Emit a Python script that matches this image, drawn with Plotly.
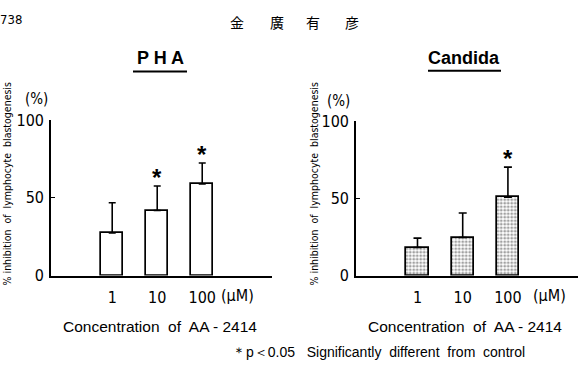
import plotly.graph_objects as go

W, H = 578, 369

positions = [1, 2, 3]
tick_labels = ["1", "10", "100"]

pha_mean = [27.3, 41.8, 58.8]
pha_err = [19.5, 15.8, 13.5]
pha_sig = [False, True, True]

cand_mean = [18.1, 24.6, 50.6]
cand_err = [6.1, 15.8, 19.5]
cand_sig = [False, False, True]

NARROW = "Liberation Sans Narrow, DejaVu Sans Condensed, Arial Narrow, sans-serif"
SANS = "Liberation Sans, Arial, sans-serif"


def px(x):
    return x / W


def py(y):
    return 1 - y / H


fig = go.Figure()

fig.add_trace(go.Bar(
    x=positions, y=pha_mean, width=0.49,
    marker=dict(color="white", line=dict(color="black", width=1.7)),
    error_y=dict(type="data", array=pha_err, arrayminus=[0, 0, 0], symmetric=False,
                 color="black", thickness=1.6, width=3.5),
    xaxis="x", yaxis="y", showlegend=False,
))
fig.add_trace(go.Bar(
    x=positions, y=cand_mean, width=0.49,
    marker=dict(color="white", line=dict(color="black", width=1.7),
                pattern=dict(shape=".", size=3.5, solidity=0.5, fgcolor="#444", bgcolor="white")),
    error_y=dict(type="data", array=cand_err, arrayminus=[0, 0, 0], symmetric=False,
                 color="black", thickness=1.6, width=4),
    xaxis="x2", yaxis="y2", showlegend=False,
))

xcommon = dict(range=[-0.36, 4.55], showline=True, linecolor="black", linewidth=1.7,
               showgrid=False, zeroline=False, ticks="", tickvals=positions,
               ticktext=tick_labels, ticklabelstandoff=6,
               tickfont=dict(family=NARROW, size=16, color="black"), fixedrange=True)
ycommon = dict(range=[0, 100], showline=True, linecolor="black", linewidth=1.7,
               showgrid=False, zeroline=False, ticks="inside", ticklen=4, tickwidth=1.4,
               tickcolor="black", tickvals=[0, 50, 100], ticklabelstandoff=2,
               tickfont=dict(family=NARROW, size=16, color="black"), fixedrange=True)

annotations = []
shapes = []

panels = [
    dict(xa="x", ya="y", x0=51, x1=272, y0=281, y100=117, mean=pha_mean, err=pha_err, sig=pha_sig,
         title="<b>P H A</b>", tx=160, ty=52, ul=(133, 187, 66),
         pct=(36, 95), ytitle_x=7, um=(237, 302), xt=(160, 335)),
    dict(xa="x2", ya="y2", x0=356, x1=578, y0=281, y100=118, mean=cand_mean, err=cand_err, sig=cand_sig,
         title="<b>Candida</b>", tx=464, ty=52, ul=(428, 501, 65),
         pct=(338, 97), ytitle_x=314, um=(549, 302), xt=(465, 335)),
]

layout_axes = {}
for i, p in enumerate(panels):
    suffix = "" if i == 0 else "2"
    layout_axes["xaxis" + suffix] = dict(xcommon, domain=[px(p["x0"]), px(p["x1"])],
                                         anchor="y" + suffix)
    layout_axes["yaxis" + suffix] = dict(ycommon, domain=[py(p["y0"]), py(p["y100"])],
                                         anchor="x" + suffix)
    for xv, m, e, s in zip(positions, p["mean"], p["err"], p["sig"]):
        if s:
            annotations.append(dict(x=xv, y=m + e, xref=p["xa"], yref=p["ya"], text="<b>*</b>",
                                    showarrow=False, yanchor="bottom", yshift=-7,
                                    font=dict(family=SANS, size=24, color="black")))
    annotations.append(dict(x=px(p["tx"]), y=py(p["ty"]), xref="paper", yref="paper",
                            text=p["title"], showarrow=False, xanchor="center", yanchor="middle",
                            font=dict(family=SANS, size=18, color="black")))
    shapes.append(dict(type="line", xref="paper", yref="paper",
                       x0=px(p["ul"][0]), x1=px(p["ul"][1]), y0=py(p["ul"][2]), y1=py(p["ul"][2]),
                       line=dict(color="black", width=2)))
    annotations.append(dict(x=px(p["pct"][0]), y=py(p["pct"][1]), xref="paper", yref="paper",
                            text="(%)", showarrow=False, xanchor="center", yanchor="middle",
                            font=dict(family=NARROW, size=15, color="black")))
    annotations.append(dict(x=px(p["ytitle_x"]), y=py(185), xref="paper", yref="paper",
                            text="% inhibition  of  lymphocyte  blastogenesis", textangle=-90,
                            showarrow=False, xanchor="center", yanchor="middle",
                            font=dict(family=NARROW, size=10.5, color="black")))
    annotations.append(dict(x=px(p["um"][0]), y=py(p["um"][1]), xref="paper", yref="paper",
                            text="(\u03bcM)", showarrow=False, xanchor="center", yanchor="middle",
                            font=dict(family=NARROW, size=16, color="black")))
    annotations.append(dict(x=px(p["xt"][0]), y=py(p["xt"][1]), xref="paper", yref="paper",
                            text="Concentration  of  AA - 2414", showarrow=False,
                            xanchor="center", yanchor="middle",
                            font=dict(family=SANS, size=15.5, color="black")))

# page header
annotations.append(dict(x=0, y=py(11), xref="paper", yref="paper", text="738", showarrow=False,
                        xanchor="left", yanchor="middle", xshift=-2,
                        font=dict(family=NARROW, size=13, color="black")))
for ch, cx in zip(["金", "廣", "有", "彦"], [237, 277, 313, 352]):
    annotations.append(dict(x=px(cx), y=py(14), xref="paper", yref="paper", text=ch, showarrow=False,
                            xanchor="center", yanchor="middle",
                            font=dict(family="Noto Sans CJK JP", size=14, color="black")))
# footnote
annotations.append(dict(x=px(230), y=0, xref="paper", yref="paper",
                        text="＊p＜0.05   Significantly  different  from  control",
                        showarrow=False, xanchor="left", yanchor="bottom", yshift=-3,
                        font=dict(family=SANS, size=14, color="black")))

fig.update_layout(
    width=W, height=H, margin=dict(l=0, r=0, t=0, b=0),
    paper_bgcolor="white", plot_bgcolor="white",
    annotations=annotations, shapes=shapes, bargap=0, showlegend=False,
    **layout_axes,
)

fig.write_html("out.html", config={"displayModeBar": False})
